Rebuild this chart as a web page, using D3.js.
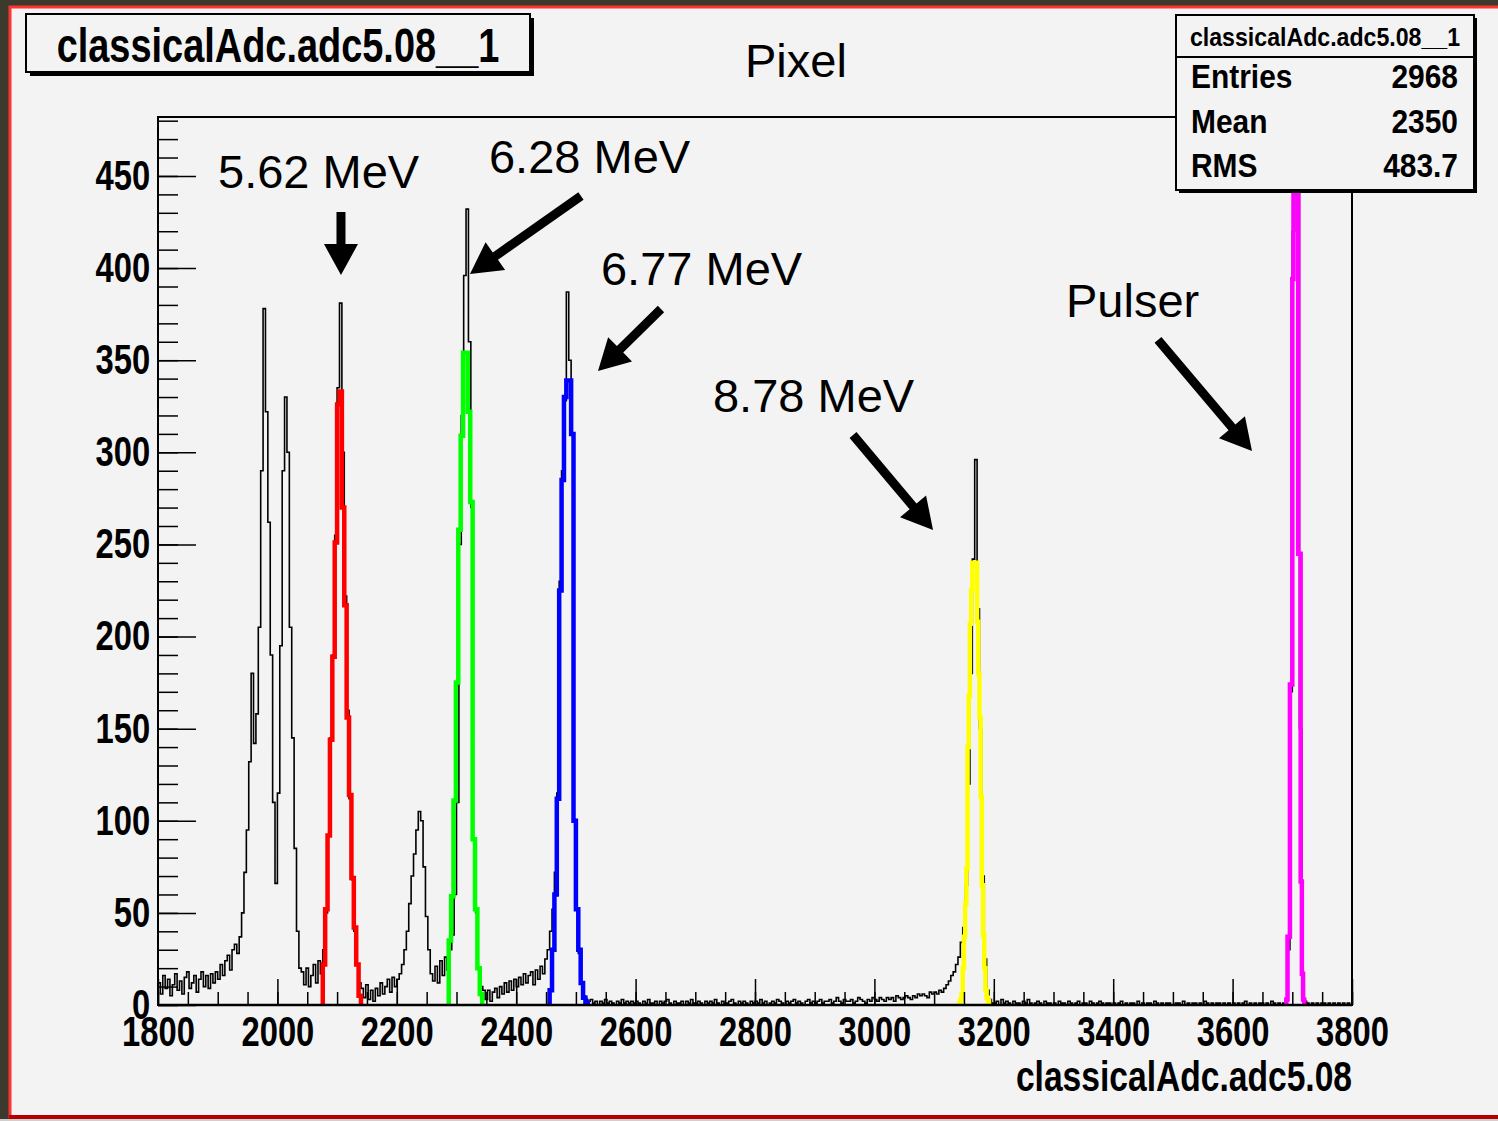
<!DOCTYPE html>
<html><head><meta charset="utf-8">
<script src="https://cdn.jsdelivr.net/npm/d3@7"></script>
<style>html,body{margin:0;padding:0;background:#3c3a2c;overflow:hidden}</style>
</head><body><svg id="c" width="1498" height="1121"></svg>
<script>
// ---------------- DATA ----------------
const histTitle = "classicalAdc.adc5.08__1";
const xAxisTitle = "classicalAdc.adc5.08";
const padTitle = "Pixel";
const statNames = ["Entries", "Mean", "RMS"];
const statValues = ["2968", "2350", "483.7"];
const xTickValues = [1800, 2000, 2200, 2400, 2600, 2800, 3000, 3200, 3400, 3600, 3800];
const yTickValues = [0, 50, 100, 150, 200, 250, 300, 350, 400, 450];
const xDomain = [1800, 3800];
const yDomain = [0, 482];

const binStart = 1800, binWidth = 4;
const counts1800 = [12, 6, 16, 9, 14, 5, 11, 17, 8, 13, 6, 15, 18, 9, 12, 16, 7, 14, 18, 10, 16, 9, 17, 12, 18,
  14, 22, 16, 24, 27, 19, 30, 33, 28, 37, 50, 72, 95, 132, 180, 142, 158, 205, 290, 378, 322, 262, 190, 110, 66];
const counts2000 = [115, 195, 290, 330, 300, 205, 145, 85, 40, 20, 18, 11, 20, 10, 16, 22, 12, 24, 17, 30, 50, 92, 145, 190, 255,
  335, 381, 300, 222, 160, 112, 68, 40, 22, 12, 9, 4, 11, 3, 8, 2, 9, 5, 12, 6, 10, 14, 7, 15, 10];
const counts2200 = [14, 17, 22, 30, 40, 55, 70, 82, 95, 105, 100, 75, 48, 30, 17, 13, 21, 12, 24, 16, 26, 19, 30, 38, 60,
  110, 250, 320, 396, 432, 360, 270, 90, 50, 20, 10, 8, 3, 8, 2, 7, 9, 4, 10, 6, 12, 7, 13, 8, 14];
const counts2400 = [10, 15, 11, 17, 12, 16, 18, 11, 19, 14, 21, 17, 25, 30, 40, 52, 72, 115, 230, 290, 328, 387, 350, 310, 100,
  52, 28, 12, 5, 3, 2, 3, 1, 2, 0, 2, 1, 3, 1, 2, 1, 0, 2, 1, 3, 1, 2, 1, 2, 1];
const counts2600 = [2, 1, 0, 2, 1, 3, 1, 1, 2, 0, 2, 1, 2, 3, 1, 0, 2, 1, 1, 2, 0, 2, 1, 3, 1,
  1, 2, 1, 0, 2, 1, 2, 1, 3, 1, 0, 2, 1, 1, 2, 3, 1, 0, 2, 1, 2, 1, 0, 2, 1];
const counts2800 = [2, 1, 3, 1, 2, 0, 1, 2, 1, 3, 2, 1, 0, 2, 1, 2, 3, 1, 2, 1, 0, 2, 3, 1, 2,
  1, 2, 3, 1, 2, 2, 3, 1, 2, 4, 2, 1, 3, 2, 2, 3, 1, 2, 4, 3, 2, 1, 3, 2, 4];
const counts3000 = [3, 2, 4, 3, 2, 4, 3, 4, 2, 5, 4, 3, 4, 5, 4, 3, 5, 4, 6, 5, 6, 5, 4, 7, 6,
  7, 6, 8, 7, 9, 11, 13, 16, 18, 22, 26, 34, 42, 65, 120, 180, 242, 296, 215, 150, 70, 25, 8, 3, 1];
const counts3200 = [1, 2, 0, 3, 1, 2, 1, 0, 2, 1, 1, 0, 2, 1, 3, 1, 0, 1, 2, 1, 0, 2, 1, 1, 0,
  1, 0, 2, 1, 1, 0, 2, 1, 0, 1, 2, 0, 1, 1, 0, 2, 1, 0, 1, 2, 1, 0, 1, 1, 0];
const counts3400 = [1, 0, 1, 2, 0, 1, 0, 1, 1, 0, 2, 0, 1, 0, 1, 1, 0, 2, 1, 0, 1, 0, 1, 1, 0,
  0, 1, 1, 0, 2, 0, 1, 0, 1, 1, 0, 1, 0, 2, 1, 0, 1, 0, 1, 1, 0, 1, 0, 1, 0];
const counts3600 = [1, 0, 1, 0, 1, 2, 0, 1, 0, 1, 0, 1, 1, 0, 1, 0, 2, 1, 0, 1, 0, 1, 2, 30, 170,
  420, 580, 450, 150, 12, 2, 1, 0, 1, 0, 1, 0, 1, 1, 0, 1, 0, 1, 0, 1, 0, 1, 0, 1, 0];

// fitted peaks (drawn as stepped curves)
const fitNames  = ["5.62 MeV", "6.28 MeV", "6.77 MeV", "8.78 MeV", "Pulser"];
const fitColors = ["#ff0000", "#00ff00", "#0000ff", "#ffff00", "#ff00ff"];
const fitStarts = [2076, 2287, 2456, 3142, 3690];
const fitWidths = [4, 4, 4, 2, 2];
const redFit    = [22, 52, 92, 144, 189, 251, 326, 333, 270, 217, 156, 114, 69, 42, 22, 5];
const greenFit  = [35, 59, 111, 175, 258, 309, 354, 354, 322, 273, 90, 52, 20, 6];
const blueFit   = [8, 30, 60, 112, 225, 285, 330, 339, 339, 310, 100, 52, 30, 12, 4, 1];
const yellowFit = [1, 3, 6, 20, 37, 55, 74, 140, 168, 207, 225, 240, 240, 240, 240, 208, 180, 156, 113, 65, 38, 20, 8, 4, 2];
const pulserFit = [3, 37, 37, 174, 174, 394, 560, 600, 600, 560, 245, 245, 67, 17, 3];

// annotations in data coordinates (ADC, counts)
const labelAnchors = [[1900.5, 443.5], [2354.4, 451.6], [2542, 390.8], [2729.6, 321.9], [3320.9, 373.5]];
const arrowTails = [[2106.5, 430.4], [2508.5, 439.1], [2642.5, 377.8], [2964.2, 309.4], [3475, 361]];
const arrowTips  = [[2106.5, 396.2], [2322.6, 396.8], [2537, 344.1], [3098.2, 257.8], [3632.5, 300.7]];

// ---------------- DRAW ----------------
const W = 1498, H = 1121;
const BG = "#f3f3f3";
const svg = d3.select("#c");
const FONT = "'Liberation Sans', Arial, Helvetica, sans-serif";

svg.append("rect").attr("width", W).attr("height", H).attr("fill", "#3c3a2c");
svg.append("rect").attr("x", 10).attr("y", 7).attr("width", W).attr("height", 1110)
  .attr("fill", BG).attr("stroke", "#ff3333").attr("stroke-width", 3);
svg.append("rect").attr("x", 9).attr("y", 1115).attr("width", W).attr("height", 4).attr("fill", "#b30000");
svg.append("rect").attr("x", 0).attr("y", 1119).attr("width", W).attr("height", 2).attr("fill", "#cfcfcf");

const frame = {l: 158, t: 117, r: 1352, b: 1005};
const x = d3.scaleLinear().domain(xDomain).range([frame.l, frame.r]);
const y = d3.scaleLinear().domain(yDomain).range([frame.b, frame.t]);

svg.append("clipPath").attr("id", "clip").append("rect")
  .attr("x", frame.l).attr("y", frame.t).attr("width", frame.r - frame.l).attr("height", frame.b - frame.t);

const plot = svg.append("g").attr("clip-path", "url(#clip)");

// black histogram
const counts = [].concat(counts1800, counts2000, counts2200, counts2400, counts2600,
  counts2800, counts3000, counts3200, counts3400, counts3600);
const histPts = counts.map((c, i) => [binStart + i * binWidth, c]);
histPts.push([binStart + counts.length * binWidth, counts[counts.length - 1]]);
const stepLine = d3.line().x(d => x(d[0])).y(d => y(d[1])).curve(d3.curveStepAfter);
plot.append("path").attr("d", stepLine(histPts)).attr("fill", "none")
  .attr("stroke", "#000").attr("stroke-width", 1.6);

// fits
const fitValues = [redFit, greenFit, blueFit, yellowFit, pulserFit];
fitValues.forEach((vals, k) => {
  const s = fitStarts[k], w = fitWidths[k];
  const pts = [[s, 0]];
  vals.forEach((v, i) => pts.push([s + i * w, v]));
  const end = s + vals.length * w;
  pts.push([end, vals[vals.length - 1]]);
  pts.push([end, 0]);
  plot.append("path").attr("d", stepLine(pts)).attr("fill", "none")
    .attr("stroke", fitColors[k]).attr("stroke-width", 4.5).attr("stroke-linejoin", "miter");
});

// frame
svg.append("rect").attr("x", frame.l).attr("y", frame.t)
  .attr("width", frame.r - frame.l).attr("height", frame.b - frame.t)
  .attr("fill", "none").attr("stroke", "#000").attr("stroke-width", 2);

// axes
const xMinor = d3.range(xDomain[0], xDomain[1] + 1, 50);
const yMinor = d3.range(0, yDomain[1], 10);
const gxMinor = svg.append("g").attr("transform", `translate(0,${frame.b})`)
  .call(d3.axisBottom(x).tickValues(xMinor).tickSizeInner(-13).tickSizeOuter(0).tickFormat(""));
const gx = svg.append("g").attr("transform", `translate(0,${frame.b})`)
  .call(d3.axisBottom(x).tickValues(xTickValues).tickSizeInner(-26).tickSizeOuter(0).tickPadding(11).tickFormat(d3.format("d")));
const gyMinor = svg.append("g").attr("transform", `translate(${frame.l},0)`)
  .call(d3.axisLeft(y).tickValues(yMinor).tickSizeInner(-20).tickSizeOuter(0).tickFormat(""));
const gy = svg.append("g").attr("transform", `translate(${frame.l},0)`)
  .call(d3.axisLeft(y).tickValues(yTickValues).tickSizeInner(-38).tickSizeOuter(0).tickPadding(10).tickFormat(d3.format("d")));
[gxMinor, gx, gyMinor, gy].forEach(g => {
  g.select(".domain").remove();
  g.selectAll(".tick line").attr("stroke", "#000").attr("stroke-width", 1.5);
});
[gx, gy].forEach(g => g.selectAll(".tick text")
  .attr("font-family", FONT).attr("font-weight", "bold").attr("font-size", 42)
  .attr("fill", "#000").attr("transform", "scale(0.78,1)"));
svg.append("line").attr("x1", frame.l).attr("x2", frame.r).attr("y1", frame.b).attr("y2", frame.b)
  .attr("stroke", "#000").attr("stroke-width", 2.5);

// helper for text with horizontal condensation
function addText(str, px, py, size, weight, anchor, sx) {
  return svg.append("text").attr("transform", `translate(${px},${py}) scale(${sx},1)`)
    .attr("font-family", FONT).attr("font-size", size).attr("font-weight", weight)
    .attr("text-anchor", anchor).attr("fill", "#000").text(str);
}

addText(xAxisTitle, frame.r, 1091, 42, "bold", "end", 0.8);

// title box
svg.append("rect").attr("x", 30).attr("y", 18).attr("width", 504).attr("height", 58).attr("fill", "#000");
svg.append("rect").attr("x", 26).attr("y", 14).attr("width", 504).attr("height", 58)
  .attr("fill", BG).attr("stroke", "#000").attr("stroke-width", 2);
addText(histTitle, 278, 62, 48, "bold", "middle", 0.79);

addText(padTitle, 745, 77, 47, "normal", "start", 1);

// stats box
svg.append("rect").attr("x", 1179).attr("y", 18).attr("width", 298).attr("height", 175).attr("fill", "#000");
svg.append("rect").attr("x", 1176).attr("y", 15).attr("width", 298).attr("height", 175)
  .attr("fill", BG).attr("stroke", "#000").attr("stroke-width", 2);
svg.append("line").attr("x1", 1176).attr("x2", 1474).attr("y1", 57).attr("y2", 57)
  .attr("stroke", "#000").attr("stroke-width", 2);
addText(histTitle, 1325, 46, 26, "bold", "middle", 0.89);
const rowY = [88, 133, 177];
statNames.forEach((n, i) => {
  addText(n, 1191, rowY[i], 34, "bold", "start", 0.88);
  addText(statValues[i], 1458, rowY[i], 34, "bold", "end", 0.88);
});

// peak labels
fitNames.forEach((n, i) => {
  addText(n, x(labelAnchors[i][0]), y(labelAnchors[i][1]), 47, "normal", "start", 1);
});

// arrows
function arrow(t0, t1) {
  const x0 = x(t0[0]), y0 = y(t0[1]), x1 = x(t1[0]), y1 = y(t1[1]);
  const dx = x1 - x0, dy = y1 - y0, L = Math.hypot(dx, dy);
  const ux = dx / L, uy = dy / L, nx = -uy, ny = ux;
  const hl = 31, hw = 17, sw = 4.5;
  const bx = x1 - ux * hl, by = y1 - uy * hl;
  const pts = [
    [x0 + nx * sw, y0 + ny * sw], [bx + nx * sw, by + ny * sw], [bx + nx * hw, by + ny * hw],
    [x1, y1], [bx - nx * hw, by - ny * hw], [bx - nx * sw, by - ny * sw], [x0 - nx * sw, y0 - ny * sw]
  ];
  svg.append("path").attr("d", "M" + pts.map(p => p.join(",")).join("L") + "Z").attr("fill", "#000");
}
arrowTails.forEach((t, i) => arrow(t, arrowTips[i]));
</script>
</body></html>
